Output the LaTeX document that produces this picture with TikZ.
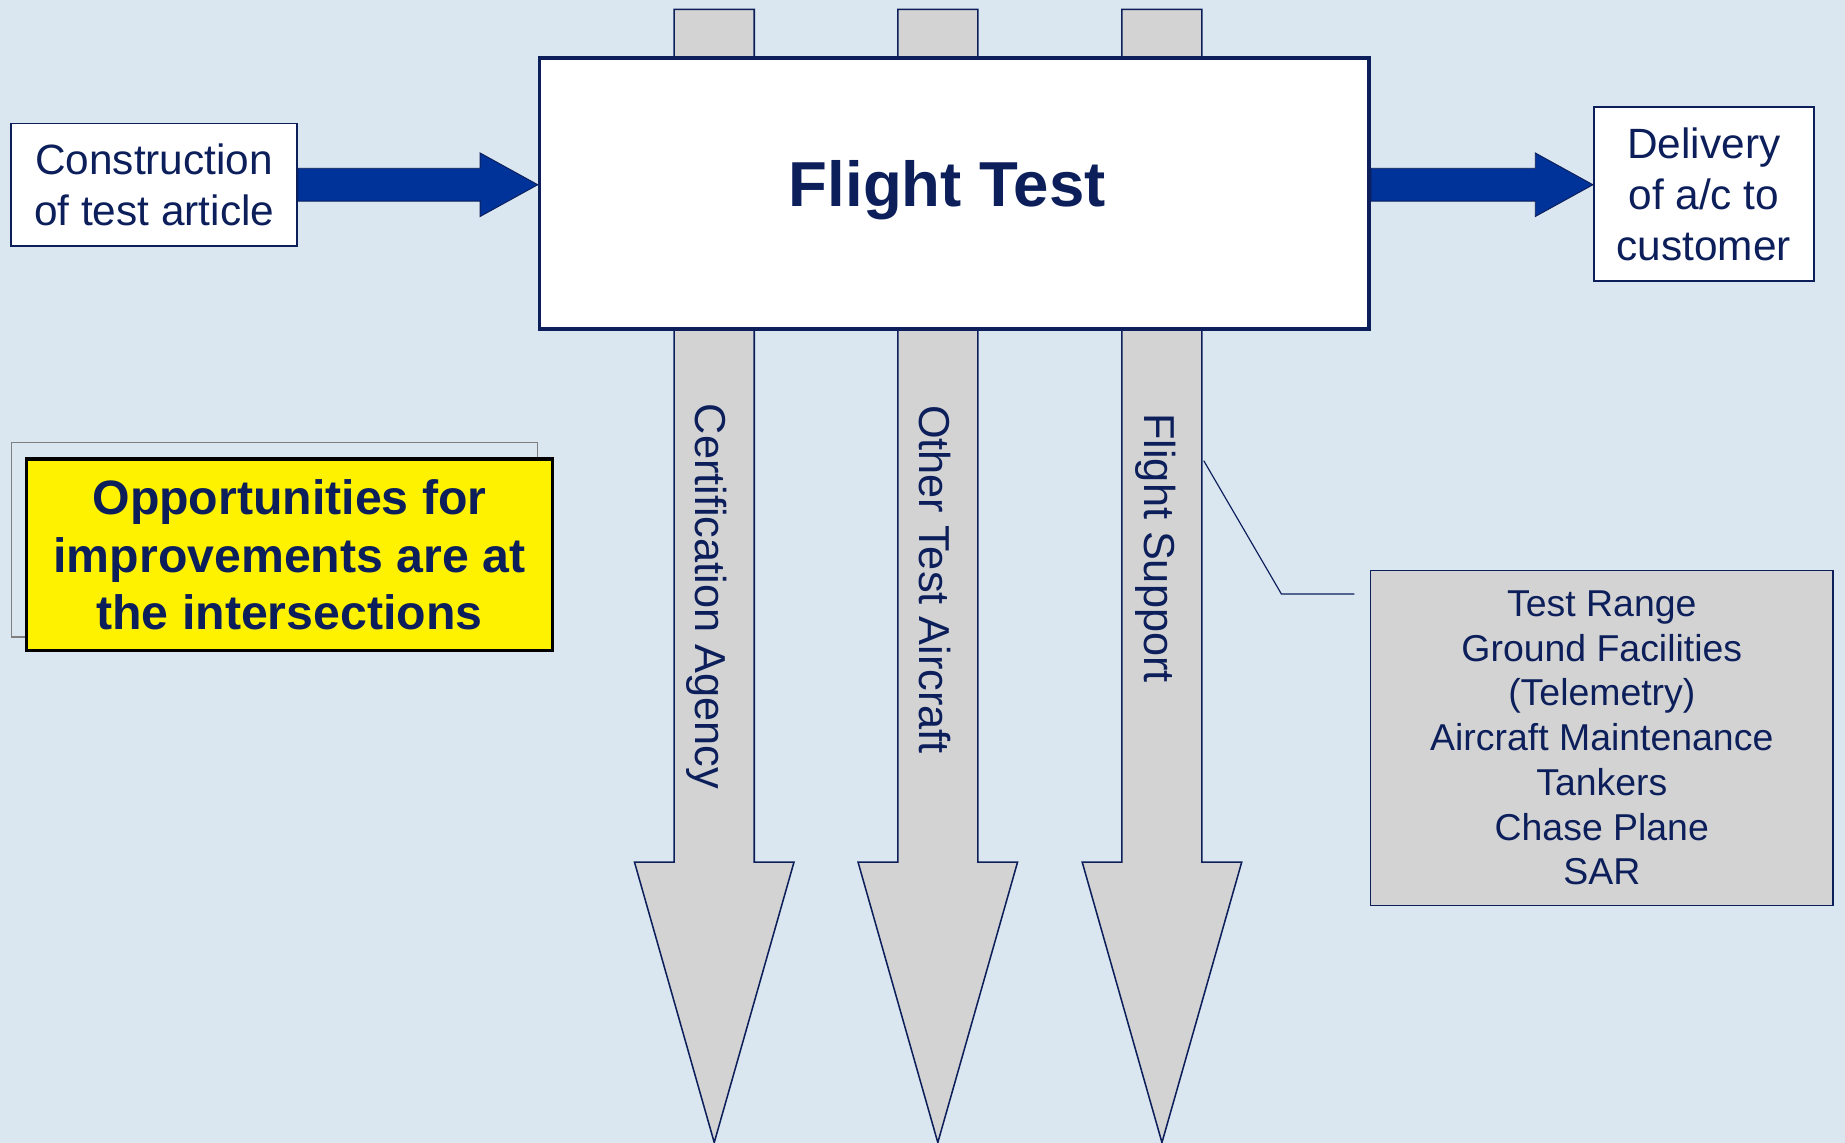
\documentclass[tikz,border=0pt]{standalone}
\usepackage{fontspec}
\setmainfont{Liberation Sans}
\usetikzlibrary{calc}

\definecolor{bg}{HTML}{DAE6F0}
\definecolor{navy}{HTML}{0C1F5B}
\definecolor{arrowblue}{HTML}{003399}
\definecolor{shaftgray}{HTML}{D3D3D3}
\definecolor{notegray}{HTML}{7F7F7F}

% thick blue flow arrow between two points at the same height
\newcommand\fatarrow[2]{%
  \draw[bluearrow] ($(#1)+(0,-14)$) -- ($(#2)+(-49,-14)$) -- ($(#2)+(-49,-27)$)
    -- (#2) -- ($(#2)+(-49,27)$) -- ($(#2)+(-49,14)$) -- ($(#1)+(0,14)$) -- cycle;}

\begin{document}
\begin{tikzpicture}[x=1pt,y=-1pt,
  bluearrow/.style={fill=arrowblue, draw=navy, line width=0.8pt, line join=miter},
  grayarrow/.style={fill=shaftgray, draw=navy, line width=1.3pt, line join=miter},
  plainbox/.style={draw=navy, fill=white, line width=1.5pt, text=navy, inner sep=0pt,
    align=center, font=\fontsize{36}{43.3}\selectfont},
  shaftlabel/.style={rotate=-90, anchor=base west, inner sep=0pt, text=navy,
    font=\fontsize{36.8}{43}\selectfont},
  callout/.style={draw=navy, line width=1pt}]

% page
\fill[bg] (0,0) rectangle (1568,971);
\useasboundingbox (0,0) rectangle (1568,971);

% three grey interface arrows running down through the central block
\foreach \cx in {607,797,987.5}{
  \draw[grayarrow] (\cx-34,8) -- (\cx+34,8) -- (\cx+34,732.6) -- (\cx+67.8,732.6)
    -- (\cx,971) -- (\cx-67.8,732.6) -- (\cx-34,732.6) -- cycle;
}
\node[shaftlabel] (certlbl) at (591,343) {Certification Agency};
\node[shaftlabel] (otherlbl) at (781.3,344) {Other Test Aircraft};
\node[shaftlabel] (supplbl) at (973,351) {Flight Support};

% central block
\node[draw=navy, fill=white, line width=3pt, minimum width=705pt, minimum height=230pt,
  inner sep=0pt] (ft) at (811,164.5) {};
\node[anchor=base, inner sep=0pt, text=navy, font=\fontsize{54}{60}\selectfont\bfseries]
  (fttitle) at (805,175.6) {Flight Test};

% input and output
\node[plainbox, minimum width=243pt, minimum height=104pt] (cons) at (131,157)
  {Construction\\of test article};
\node[plainbox, minimum width=187pt, minimum height=148pt] (deliv) at (1448,165)
  {Delivery\\of a/c to\\customer};

\coordinate (lend) at (cons.east -| ft.west);
\coordinate (rstart) at (cons.east -| ft.east);
\coordinate (rend) at (cons.east -| deliv.west);
\fatarrow{cons.east}{lend}
\fatarrow{rstart}{rend}

% highlighted note
\node[draw=notegray, line width=1pt, minimum width=447pt, minimum height=165pt,
  inner sep=0pt] (noteback) at (233,458.8) {};
\node[draw=black, fill=yellow, line width=3pt, minimum width=447pt, minimum height=163pt,
  inner sep=0pt, align=center, text=navy, font=\fontsize{41}{48.5}\selectfont\bfseries]
  (note) at (246,471.5) {Opportunities for\\improvements are at\\the intersections};

% support details
\node[draw=navy, fill=shaftgray, line width=1pt, minimum width=393pt, minimum height=285pt,
  inner sep=0pt, align=center, text=navy, font=\fontsize{31.8}{38}\selectfont]
  (gbox) at (1361.3,627.2)
  {Test Range\\Ground Facilities\\(Telemetry)\\Aircraft Maintenance\\Tankers\\Chase Plane\\SAR};

\coordinate (cstart) at (1023,391.5);
\coordinate (cknee) at (1089,504.8);
\coordinate (cend) at (1151,504.8);
\draw[callout] (cstart) -- (cknee) -- (cend);

\end{tikzpicture}
\end{document}
